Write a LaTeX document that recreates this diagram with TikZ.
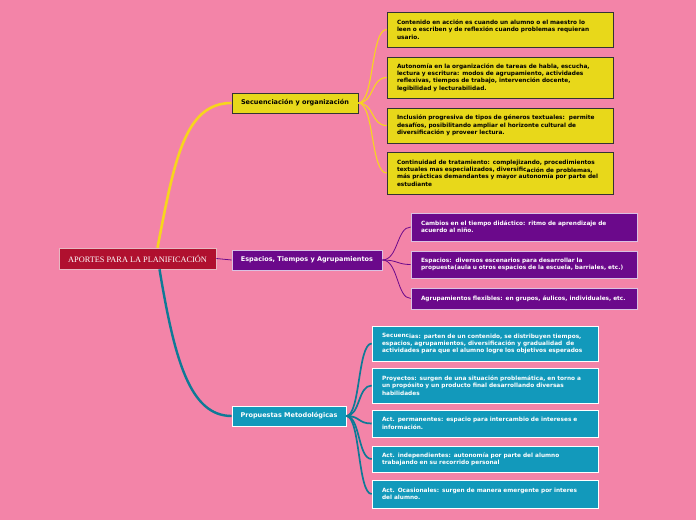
\documentclass[tikz,border=0pt]{standalone}
\usepackage{fontspec}
\newfontfamily\cajafont{DejaVu Sans}
\newfontfamily\raizfont{Liberation Serif}
\usepackage{tikz}
\usetikzlibrary{shadows}
\definecolor{Fondo}{HTML}{F384A8}
\definecolor{Raiz}{HTML}{B0102F}
\definecolor{Amarillo}{HTML}{E8D81A}
\definecolor{Linea}{HTML}{F7D51E}
\definecolor{Morado}{HTML}{6B098B}
\definecolor{Turquesa}{HTML}{1299BB}

\begin{document}
\begin{tikzpicture}[x=1pt,y=-1pt,
  sombra/.style={drop shadow={shadow xshift=0.8pt,shadow yshift=-0.9pt,opacity=0.35}},
  raiz/.style={rectangle,fill=Raiz,draw=white!70!Raiz,line width=0.6pt,text=white,
    minimum width=157pt,minimum height=21pt,inner sep=1pt,
    font=\raizfont\fontsize{8.3}{9}\selectfont,sombra},
  rama/.style={rectangle,line width=0.6pt,minimum height=20pt,inner sep=1pt,
    font=\cajafont\bfseries\fontsize{6.5}{7.5}\selectfont,sombra},
  hoja/.style={rectangle,line width=0.6pt,inner xsep=10pt,inner ysep=2pt,
    text width=206pt,align=left,
    font=\cajafont\bfseries\fontsize{5.8}{7.4}\selectfont,sombra},
  hojaA/.style={hoja,fill=Amarillo,draw=black!80,text=black},
  hojaM/.style={hoja,fill=Morado,draw=white!75!Morado,text=white},
  hojaT/.style={hoja,fill=Turquesa,draw=white,text=white}
]

\fill [Fondo] (0,0) rectangle (696,520);
\useasboundingbox (0,0) rectangle (696,520);

\node [raiz] (aportes) at (137.5,258.5) {APORTES PARA LA PLANIFICACIÓN};

\node [rama,fill=Amarillo,draw=black!80,text=black,minimum width=126pt] (secuencia) at (295,103) {Secuenciación y organización};
\node [rama,fill=Morado,draw=white!75!Morado,text=white,minimum width=150pt] (espacios) at (307,260) {Espacios, Tiempos y Agrupamientos};
\node [rama,fill=Turquesa,draw=white,text=white,minimum width=114pt] (propuestas) at (289,416) {Propuestas Metodológicas};

% secuenciacion
\node [hojaA,minimum height=35pt] (sec1) at (500,29.5) {Contenido en acción es cuando un alumno o el maestro lo\\leen o escriben y de reflexión cuando problemas requieran\\usario.};
\node [hojaA,minimum height=41pt] (sec2) at (500,77.5) {Autonomía en la organización de tareas de habla, escucha,\\lectura y escritura: modos de agrupamiento, actividades\\reflexivas, tiempos de trabajo, intervención docente,\\legibilidad y lecturabilidad.};
\node [hojaA,minimum height=35pt] (sec3) at (500,125.5) {Inclusión progresiva de tipos de géneros textuales:\ \ permite\\desafíos, posibilitando ampliar el horizonte cultural de\\diversificación y proveer lectura.};
\node [hojaA,minimum height=42pt] (sec4) at (500,173) {Continuidad de tratamiento: complejizando, procedimientos\\textuales mas especializados, diversific\raisebox{-1.2pt}{ación de problemas,}\\más prácticas demandantes y mayor autonomía por parte del\\estudiante};

% espacios
\node [hojaM,minimum height=28pt] (esp1) at (524,227) {Cambios en el tiempo didáctico: ritmo de aprendizaje de\\acuerdo al niño.};
\node [hojaM,minimum height=27pt] (esp2) at (524,264.5) {Espacios:\ \ diversos escenarios para desarrollar la\\propuesta(aula u otros espacios de la escuela, barriales, etc.)};
\node [hojaM,minimum height=21pt] (esp3) at (524,298.5) {Agrupamientos flexibles: en grupos, áulicos, individuales, etc.};

% propuestas
\node [hojaT,minimum height=35pt] (pro1) at (485,343.5) {Secuenc\raisebox{-1.2pt}{ias: parten de un contenido, se distribuyen tiempos,}\\espacios, agrupamientos, diversificación y gradualidad\ \ de\\actividades para que el alumno logre los objetivos esperados};
\node [hojaT,minimum height=35pt] (pro2) at (485,385.5) {Proyectos: surgen de una situación problemática, en torno a\\un propósito y un producto final desarrollando diversas\\habilidades};
\node [hojaT,minimum height=27pt] (pro3) at (485,423.5) {Act. permanentes: espacio para intercambio de intereses e\\información.};
\node [hojaT,minimum height=26pt] (pro4) at (485,459) {Act. independientes: autonomía por parte del alumno\\trabajando en su recorrido personal};
\node [hojaT,minimum height=28pt] (pro5) at (485,494) {Act. Ocasionales: surgen de manera emergente por interes\\del alumno.};

% ramas principales
\draw [Linea,line width=2.6pt] ([xshift=20pt]aportes.north) .. controls +(17,-88) and +(-47,0) .. (secuencia.west);
\draw [Morado,line width=0.8pt] (aportes.east) -- (espacios.west);
\draw [Turquesa!80!black,line width=2.4pt] ([xshift=22pt]aportes.south) .. controls +(15,90) and +(-42,0) .. (propuestas.west);

% hojas
\foreach \h in {sec1,sec2,sec3,sec4}
  \draw [Linea,line width=1.1pt] (secuencia.east) .. controls +(16,0) and +(-16,0) .. (\h.west);
\foreach \h in {esp1,esp2,esp3}
  \draw [Morado,line width=0.8pt] (espacios.east) .. controls +(16,0) and +(-14,0) .. (\h.west);
\foreach \h in {pro1,pro2,pro3,pro4,pro5}
  \draw [Turquesa!80!black,line width=1.7pt] (propuestas.east) .. controls +(14,0) and +(-14,0) .. (\h.west);

\end{tikzpicture}
\end{document}
